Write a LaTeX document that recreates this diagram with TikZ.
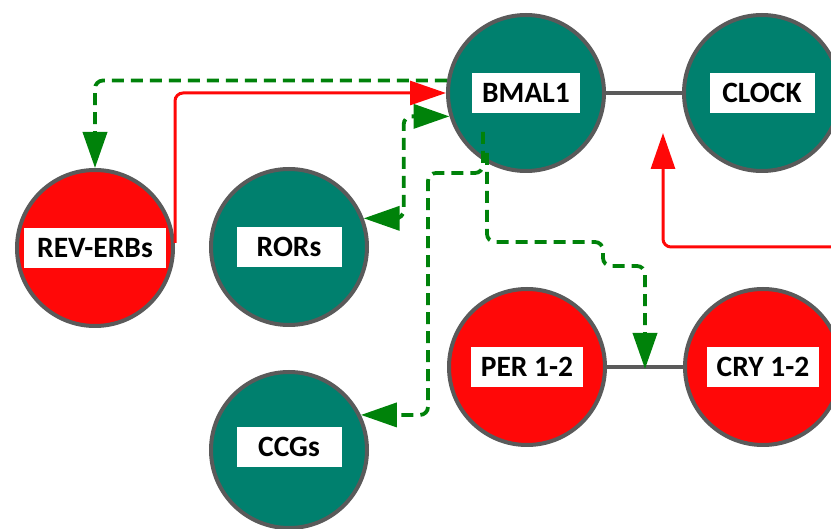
\documentclass[tikz,border=0pt]{standalone}
\usepackage{fontspec}
\setmainfont{Carlito}
\usetikzlibrary{arrows.meta}
\definecolor{teal1}{RGB}{0,128,110}
\definecolor{red1}{RGB}{255,8,8}
\definecolor{rim}{RGB}{90,90,90}
\definecolor{grn}{RGB}{0,130,10}
\begin{document}
\begin{tikzpicture}[x=1pt,y=-1pt,
  gene/.style={circle,draw=rim,line width=4pt,minimum size=156pt,inner sep=0pt},
  tbox/.style={fill=white,inner xsep=10pt,inner ysep=0pt,minimum width=105pt,minimum height=40pt,font=\fontsize{29.5}{31}\selectfont\bfseries,text=black},
  gdash/.style={draw=grn,line width=3.8pt,dash pattern=on 12pt off 7pt,rounded corners=8pt},
  gtip/.style={-{Triangle[length=36pt,width=24pt]}},
  rline/.style={draw=red1,line width=3pt,rounded corners=8pt,-{Triangle[length=36pt,width=24pt]}},
  link/.style={draw=rim,line width=4.5pt}]
\useasboundingbox (0,0) rectangle (831,529);
\clip (0,0) rectangle (831,529);

% nodes
\node[gene,fill=teal1,label={[tbox]center:BMAL1}] (bmal) at (526,93) {};
\node[gene,fill=teal1,label={[tbox]center:CLOCK}] (clock) at (762,93) {};
\node[gene,fill=red1,label={[tbox,minimum width=142pt]center:REV-ERBs}] (rev) at (95,248) {};
\node[gene,fill=teal1,label={[tbox]center:RORs}] (rors) at (289,247) {};
\node[gene,fill=red1,label={[tbox]center:PER 1-2}] (per) at (527,367) {};
\node[gene,fill=red1,label={[tbox]center:CRY 1-2}] (cry) at (763,367) {};
\node[gene,fill=teal1,label={[tbox,yshift=3pt]center:CCGs}] (ccgs) at (289,450) {};

% gray links
\draw[link] (bmal.east) -- (clock.west);
\draw[link] (per.east) -- coordinate[pos=0.5] (pc) (cry.west);

% red arrows
\draw[rline] ([yshift=5pt]rev.east) |- (bmal.west);
\coordinate (redin) at (850,247);
\draw[rline] (redin) -| ([shift={(-99,40)}]clock.center);

% green dashed arrows
\draw[gdash,gtip] (bmal.171) -| (rev.north);
\draw[gdash,{Triangle[length=36pt,width=24pt]}-{Triangle[length=36pt,width=24pt]}]
  (rors.21) -- ++(40,0) |- (bmal.197);
\draw[gdash,gtip] ([shift={(-43,39)}]bmal.center) -- ++(0,41) -- ++(-55,0) |- (ccgs.26);
\draw[gdash,gtip] ([shift={(-39,60)}]bmal.center) -- ++(0,89) -- ++(116,0) -- ++(0,24) -| ([yshift=-2pt]pc);
\end{tikzpicture}
\end{document}
